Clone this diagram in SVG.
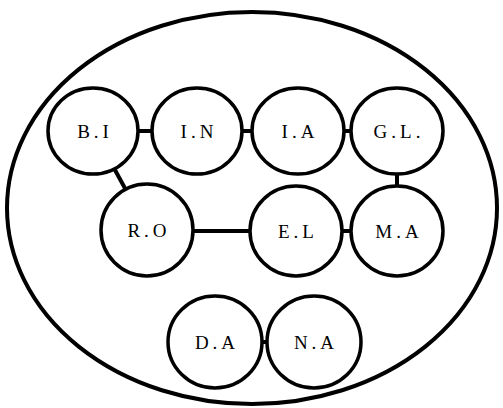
<svg xmlns="http://www.w3.org/2000/svg" width="503" height="408" viewBox="0 0 503 408">
<style>
.n{fill:#fff;stroke:#000;stroke-width:3.5}
.t{font-family:"Liberation Serif",serif;font-size:19px;letter-spacing:4px;text-anchor:middle;dominant-baseline:central;fill:#000}
.c{stroke:#000;stroke-width:4;fill:none}
</style>
<rect width="503" height="408" fill="#fff"/>
<ellipse id="outer" cx="252" cy="208" rx="245" ry="196" fill="none" stroke="#000" stroke-width="4"/>
<g id="connectors">
<line class="c" x1="135" y1="131" x2="156" y2="131"/>
<line class="c" x1="238" y1="131" x2="256" y2="131"/>
<line class="c" x1="340" y1="131" x2="355" y2="131"/>
<line class="c" x1="115" y1="170" x2="127" y2="192"/>
<line class="c" x1="190" y1="231" x2="252" y2="231"/>
<line class="c" x1="338" y1="231" x2="355" y2="231"/>
<line class="c" x1="397" y1="172" x2="397" y2="190"/>
<line class="c" x1="258" y1="342" x2="272" y2="342"/>
</g>
<g id="BI"><ellipse class="n" cx="93" cy="131" rx="45" ry="43"/><text class="t" x="95" y="131">B.I</text></g>
<g id="IN"><ellipse class="n" cx="197" cy="131" rx="45" ry="43"/><text class="t" x="199" y="131">I.N</text></g>
<g id="IA"><ellipse class="n" cx="298" cy="131" rx="46" ry="43"/><text class="t" x="300" y="131">I.A</text></g>
<g id="GL"><ellipse class="n" cx="397" cy="131" rx="46" ry="43"/><text class="t" x="399" y="131">G.L.</text></g>
<g id="RO"><ellipse class="n" cx="147" cy="230" rx="46" ry="46"/><text class="t" x="149" y="230">R.O</text></g>
<g id="EL"><ellipse class="n" cx="296" cy="231" rx="46" ry="45"/><text class="t" x="298" y="231">E.L</text></g>
<g id="MA"><ellipse class="n" cx="397" cy="231" rx="46" ry="45"/><text class="t" x="399" y="231">M.A</text></g>
<g id="DA"><ellipse class="n" cx="215" cy="342" rx="47" ry="46"/><text class="t" x="217" y="342">D.A</text></g>
<g id="NA"><ellipse class="n" cx="314" cy="342" rx="47" ry="46"/><text class="t" x="316" y="342">N.A</text></g>
</svg>
